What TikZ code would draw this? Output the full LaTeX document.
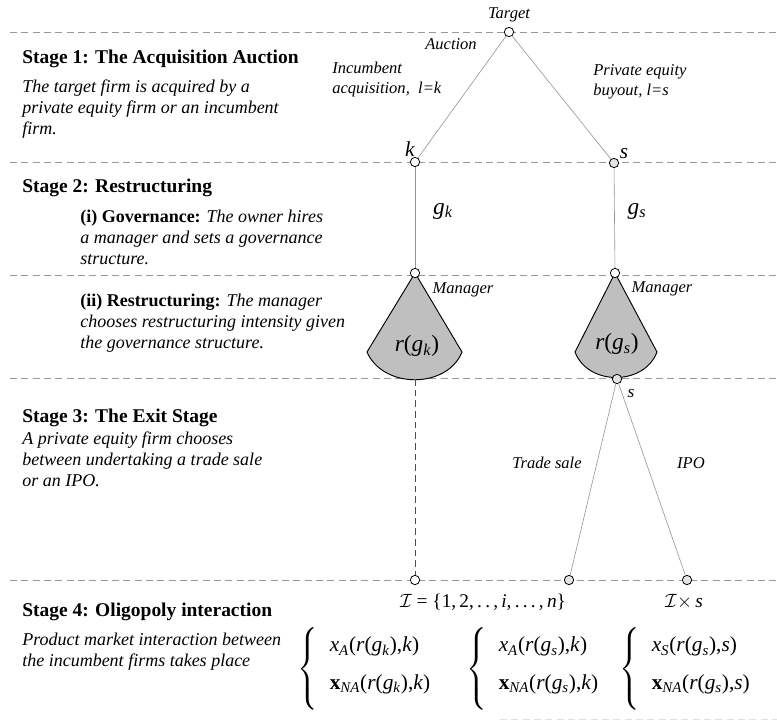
\documentclass[tikz,border=0pt]{standalone}
\usepackage{fontspec}
\setmainfont{Liberation Serif}
\usepackage{amsmath}
\newcommand{\tlines}[1]{\begin{tabular}[t]{@{}l@{}}#1\end{tabular}}
\newcommand{\iv}[1]{\textit{#1}}
\newcommand{\sbi}[1]{\textsubscript{\textit{#1}}}
\newcommand{\sysrows}[2]{$\left\{\begin{tabular}{@{\hspace{9pt}}l@{}}\rule{0pt}{16pt}#1\\[10pt]#2\rule[-14pt]{0pt}{0pt}\end{tabular}\right.$}
\begin{document}
\begin{tikzpicture}[x=0.75pt,y=-0.75pt,
  hdash/.style={draw=gray!80, dash pattern=on 5.2pt off 3.3pt, line width=0.6pt},
  vdash/.style={draw=black!70, dash pattern=on 5pt off 3pt, line width=0.7pt},
  edge/.style={draw=gray!85, line width=0.45pt},
  dot/.style={circle, draw=black, line width=0.6pt, fill=white, inner sep=0pt, minimum size=7pt},
  gdot/.style={dot, fill=gray!22},
  stagetitle/.style={anchor=base west, inner sep=0pt, font=\fontsize{14.6}{17}\selectfont\bfseries},
  body/.style={anchor=base west, inner sep=0pt, font=\fontsize{13.5}{15.75}\selectfont\itshape},
  lab/.style={inner sep=0pt, font=\fontsize{12.4}{15}\selectfont\itshape},
  biglab/.style={inner sep=0pt, font=\fontsize{17.5}{20}\selectfont},
  fan/.style={draw=black, fill=gray!50, line width=0.7pt},
  sys/.style={anchor=west, inner sep=0pt, font=\fontsize{16}{18}\selectfont},
  ]
\useasboundingbox (0,0) rectangle (777,725);

% stage separators
\draw[hdash] (10,32) -- (777,32);
\draw[hdash] (10,162) -- (777,162);
\draw[hdash] (10,275) -- (777,275);
\draw[hdash] (10,378) -- (777,378);
\draw[hdash] (10,580) -- (777,580);
\draw[draw=gray!25, dash pattern=on 5.2pt off 3.3pt, line width=0.6pt] (500,719) -- (777,719);

% left column texts
\node[stagetitle] (st1) at (22,63) {Stage 1: The Acquisition Auction};
\node[body] (st1b) at (22,92) {\tlines{The target firm is acquired by a\\ private equity firm or an incumbent\\ firm.}};
\node[stagetitle] (st2) at (22,192) {Stage 2: Restructuring};
\node[body] (st2a) at (80,222) {\tlines{\textbf{\upshape (i) Governance:} The owner hires\\ a manager and sets a governance\\ structure.}};
\node[body] (st2b) at (80,306) {\tlines{\textbf{\upshape (ii) Restructuring:} The manager\\ chooses restructuring intensity given\\ the governance structure.}};
\node[stagetitle] (st3) at (22,422) {Stage 3: The Exit Stage};
\node[body] (st3b) at (22,444) {\tlines{A private equity firm chooses\\ between undertaking a trade sale\\ or an IPO.}};
\node[stagetitle] (st4) at (22,616) {Stage 4: Oligopoly interaction};
\node[body] (st4b) at (22,645) {\tlines{Product market interaction between\\ the incumbent firms takes place}};

% fans (restructuring choice of the manager)
\draw[fan] (415,273) -- (367,352) .. controls (383,389) and (447,389) .. (462,352) -- cycle;
\draw[fan] (615,273) -- (575,352) .. controls (588,386) and (644,386) .. (657,352) -- cycle;
\coordinate (fk) at (415,379);

% tree nodes
\node[dot] (t) at (509,32) {};
\node[dot] (k) at (415,162) {};
\node[gdot] (s) at (614,163) {};
\node[dot] (mk) at (415,273) {};
\node[dot] (ms) at (615,273) {};
\node[gdot] (es) at (617,379) {};
\node[dot] (b1) at (415,580) {};
\node[gdot] (b2) at (569,580) {};
\node[gdot] (b3) at (687,580) {};

% connectors
\draw[edge] (t) -- (k);
\draw[edge] (t) -- (s);
\draw[edge] (k) -- (mk);
\draw[edge] (s) -- (ms);
\draw[edge] (es) -- (b2);
\draw[edge] (es) -- (b3);
\draw[vdash] (fk) -- (b1);

% tree labels
\node[lab, anchor=base] (lt) at (509,18) {Target};
\node[lab] (lau) at (451,44) {Auction};
\node[lab, anchor=base west] (linc) at (332,73) {\tlines{Incumbent\\ acquisition,\ \ \textit{l}=\textit{k}}};
\node[lab, anchor=base west] (lpe) at (593,75) {\tlines{Private equity\\ buyout, \textit{l}=\textit{s}}};
\node[biglab, font=\fontsize{16}{18}\selectfont] (lk) at (410,149) {\iv{k}};
\node[biglab, font=\fontsize{16}{18}\selectfont] (ls) at (624,154) {\iv{s}};
\node[biglab] (lgk) at (443,211) {\iv{g}\sbi{k}};
\node[biglab] (lgs) at (637,211) {\iv{g}\sbi{s}};
\node[lab] (lmk) at (463,290) {Manager};
\node[lab] (lms) at (662,289) {Manager};
\node[biglab] (lrk) at (417,346) {\iv{r}(\iv{g}\sbi{k})};
\node[biglab] (lrs) at (617,344) {\iv{r}(\iv{g}\sbi{s})};
\node[lab, font=\fontsize{13}{15}\selectfont\itshape] (les) at (631,393) {s};
\node[lab] (lts) at (547,463) {Trade sale};
\node[lab] (lipo) at (691,463) {IPO};

% stage 4 outcomes
\node[biglab, font=\fontsize{14.5}{17}\selectfont] (lset) at (483,602) {$\mathcal{I}$ = \{1,\,2,\,.\,.\,,\,\iv{i},\,.\,.\,.\,,\,\iv{n}\}};
\node[biglab, font=\fontsize{14.5}{17}\selectfont] (lsets) at (684,602) {$\mathcal{I}\times$\,\iv{s}};

\node[sys] (sys1) at (297,669) {\sysrows{\iv{x}\sbi{A}(\iv{r}(\iv{g}\sbi{k}),\iv{k})}{\textbf{x}\sbi{NA}(\iv{r}(\iv{g}\sbi{k}),\iv{k})}};
\node[sys] (sys2) at (466,669) {\sysrows{\iv{x}\sbi{A}(\iv{r}(\iv{g}\sbi{s}),\iv{k})}{\textbf{x}\sbi{NA}(\iv{r}(\iv{g}\sbi{s}),\iv{k})}};
\node[sys] (sys3) at (619,669) {\sysrows{\iv{x}\sbi{S}(\iv{r}(\iv{g}\sbi{s}),\iv{s})}{\textbf{x}\sbi{NA}(\iv{r}(\iv{g}\sbi{s}),\iv{s})}};
\end{tikzpicture}
\end{document}
